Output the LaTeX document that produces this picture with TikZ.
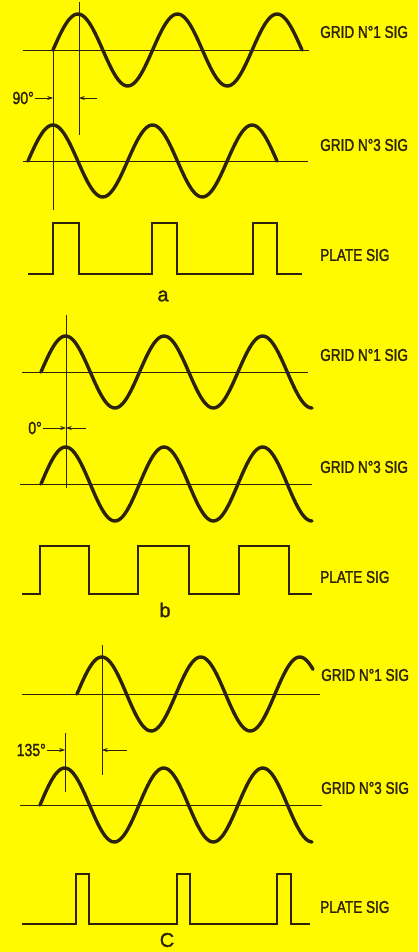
\documentclass[tikz,border=0pt]{standalone}
\usepackage{fontspec}
\newfontfamily\sigfont[FakeStretch=0.8, FakeBold=1.6]{Liberation Sans}
\newfontfamily\capfont[FakeBold=1.2]{Liberation Sans}
\usetikzlibrary{arrows.meta,positioning}
\definecolor{sheet}{RGB}{255,250,0}
\definecolor{ink}{RGB}{45,35,10}

\begin{document}
\begin{tikzpicture}[x=0.03cm, y=-0.03cm,
    axisline/.style={draw=ink, line width=0.8pt},
    wave/.style={draw=ink, line width=2.9pt, line cap=round},
    pulse/.style={draw=ink, line width=2.4pt, line join=miter},
    refline/.style={draw=ink, line width=0.6pt},
    dim/.style={-{Stealth[length=5pt,width=3.5pt]}, draw=ink, line width=0.6pt},
    sig/.style={anchor=west, text=ink, inner sep=0pt, font=\sigfont\fontsize{14.5}{14.5}\selectfont},
    deg/.style={anchor=east, text=ink, inner sep=0pt, font=\sigfont\fontsize{15}{15}\selectfont},
    tag/.style={text=ink, inner sep=0pt, font=\capfont\fontsize{17}{17}\selectfont}
]
\fill[sheet] (0,0) rectangle (418,952);
\useasboundingbox (0,0) rectangle (418,952);

% --- a : 90 degrees ---
\draw[axisline] (23,50) -- (309,50);
\draw[axisline] (23,161) -- (308,161);
\draw[wave] plot[domain=53:302, samples=120] (\x, {50-36*sin((\x-53)*3.6145)});
\draw[wave] plot[domain=28:277, samples=120] (\x, {161-36*sin((\x-28)*3.6145)});
\draw[refline] (53,50) -- (53,210);
\draw[refline] (79,2) -- (79,135);
\draw[pulse] (28,274) -- (53,274) -- (53,223) -- (79,223) -- (79,274) -- (152,274) -- (152,223)
  -- (177,223) -- (177,274) -- (253,274) -- (253,223) -- (277,223) -- (277,274) -- (302,274);

\coordinate (aL) at (35,98);
\coordinate (aLt) at (53,98);
\coordinate (aR) at (97,98);
\coordinate (aRt) at (79,98);
\draw[dim] (aL) -- (aLt);
\draw[dim] (aR) -- (aRt);
\node[deg] (dega) at (34,98) {90°};

\node[sig] (g1a) at (320,32) {GRID N°1 SIG};
\node[sig] (g3a) at (320,145) {GRID N°3 SIG};
\node[sig] (pla) at (320,255) {PLATE SIG};
\node[tag] (capa) at (163,296) {a};

% --- b : 0 degrees ---
\draw[axisline] (22,372) -- (308,372);
\draw[axisline] (20,484) -- (312,484);
\draw[wave] plot[domain=41:312, samples=130] (\x, {372-36*sin((\x-41)*3.6548)});
\draw[wave] plot[domain=41:312, samples=130] (\x, {484-37*sin((\x-41)*3.6548)});
\draw[refline] (66,315) -- (66,488);
\draw[pulse] (22,594) -- (40,594) -- (40,546) -- (89,546) -- (89,594) -- (138,594) -- (138,546)
  -- (189,546) -- (189,594) -- (239,594) -- (239,546) -- (289,546) -- (289,594) -- (312,594);

\coordinate (bL) at (43,428);
\coordinate (bLt) at (66,428);
\coordinate (bR) at (86,428);
\coordinate (bRt) at (66,428);
\draw[dim] (bL) -- (bLt);
\draw[dim] (bR) -- (bRt);
\node[deg] (degb) at (42,428) {0°};

\node[sig] (g1b) at (320,355) {GRID N°1 SIG};
\node[sig] (g3b) at (320,467) {GRID N°3 SIG};
\node[sig] (plb) at (320,577) {PLATE SIG};
\node[tag] (capb) at (165,610) {b};

% --- c : 135 degrees ---
\draw[axisline] (22,694) -- (320,694);
\draw[axisline] (20,805) -- (322,805);
\draw[wave] plot[domain=77:313, samples=120] (\x, {694-37*sin((\x-77)*3.6364)});
\draw[wave] plot[domain=40:312, samples=130] (\x, {805-37*sin((\x-40)*3.6364)});
\draw[refline] (65,733) -- (65,792);
\draw[refline] (102,645) -- (102,775);
\draw[pulse] (22,924) -- (76,924) -- (76,874) -- (89,874) -- (89,924) -- (177,924) -- (177,874)
  -- (190,874) -- (190,924) -- (277,924) -- (277,874) -- (291,874) -- (291,924) -- (310,924);

\coordinate (cL) at (47,750);
\coordinate (cLt) at (65,750);
\coordinate (cR) at (127,750);
\coordinate (cRt) at (102,750);
\draw[dim] (cL) -- (cLt);
\draw[dim] (cR) -- (cRt);
\node[deg] (degc) at (46,750) {135°};

\node[sig] (g1c) at (321,675) {GRID N°1 SIG};
\node[sig] (g3c) at (321,788) {GRID N°3 SIG};
\node[sig] (plc) at (320,907) {PLATE SIG};
\node[tag] (capc) at (167,940) {C};
\end{tikzpicture}
\end{document}
